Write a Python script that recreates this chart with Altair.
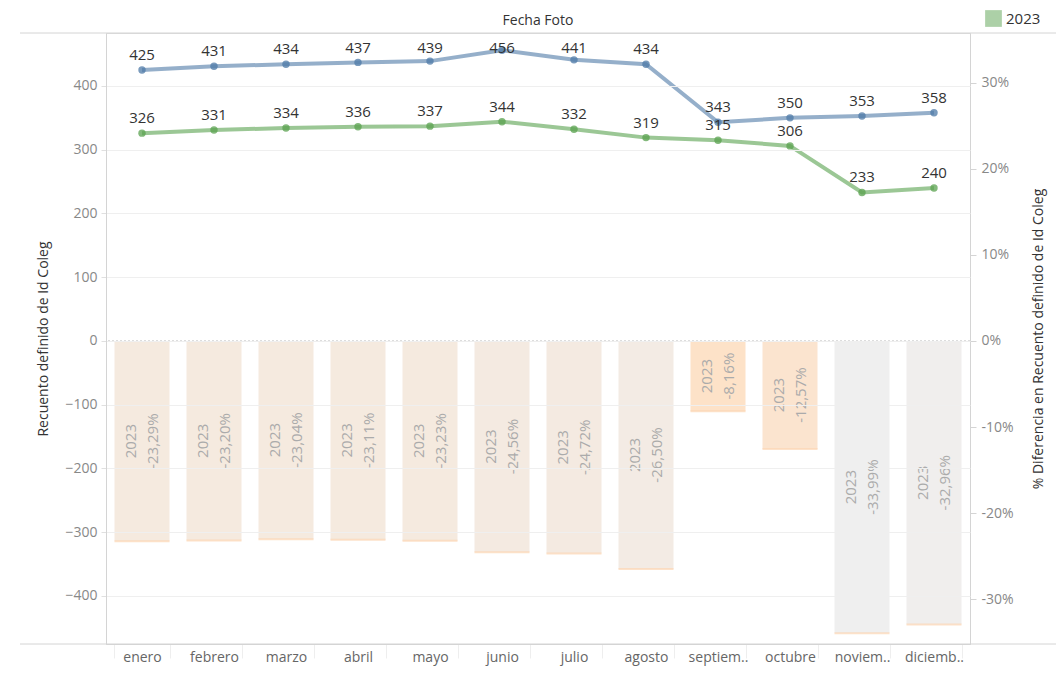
import altair as alt
import pandas as pd

# ---------------- data ----------------
months = ["enero", "febrero", "marzo", "abril", "mayo", "junio", "julio",
          "agosto", "septiem..", "octubre", "noviem..", "diciemb.."]
count_2022 = [425, 431, 434, 437, 439, 456, 441, 434, 343, 350, 353, 358]
count_2023 = [326, 331, 334, 336, 337, 344, 332, 319, 315, 306, 233, 240]
pct_diff = [-23.29, -23.20, -23.04, -23.11, -23.23, -24.56, -24.72, -26.50,
            -8.16, -12.57, -33.99, -32.96]
bar_year = "2023"
left_ticks = [-400, -300, -200, -100, 0, 100, 200, 300, 400]
right_ticks = [-30, -20, -10, 0, 10, 20, 30]
header_title = "Fecha Foto"

bars_df = pd.DataFrame({
    "mes": months,
    "pct": pct_diff,
    "anio": [bar_year] * len(months),
    "pct_txt": [(f"{p:.2f}%").replace(".", ",") for p in pct_diff],
})
bars_df["mitad"] = bars_df["pct"] / 2

lines_df = pd.DataFrame({
    "mes": months * 2,
    "anio": ["2022"] * len(months) + ["2023"] * len(months),
    "valor": count_2022 + count_2023,
})

FONT = "Open Sans"
W, H = 864, 611

x_enc = alt.X(
    "mes:N", sort=months, title=None,
    scale=alt.Scale(paddingInner=0.236, paddingOuter=0.118),
    axis=alt.Axis(labelAngle=0, labelColor="#666", labelFontSize=14, labelFont=FONT,
                  labelPadding=-8, labelBaseline="top", ticks=True, tickBand="extent",
                  tickColor="#eeeeee", tickSize=14, domainColor="#d4d4d4", grid=False),
)

r_scale = alt.Scale(domain=[-35.23, 35.81], nice=False, zero=False)
l_scale = alt.Scale(domain=[-475.3, 483.1], nice=False, zero=False)

bars = alt.Chart(bars_df).mark_bar().encode(
    x=x_enc,
    y=alt.Y("pct:Q", scale=r_scale,
            axis=alt.Axis(orient="right", title="% Diferencia en Recuento definido de Id Coleg",
                          values=right_ticks, labelExpr="datum.value + '%'", grid=False,
                          labelColor="#888", labelFontSize=14, labelFont=FONT, labelPadding=5,
                          tickColor="#d4d4d4", tickSize=6, domainColor="#d4d4d4",
                          titleColor="#333", titleFontSize=14, titleFont=FONT,
                          titleFontWeight="normal", titleAngle=270, titleBaseline="top",
                          titlePadding=18)),
    color=alt.Color("pct:Q", legend=None,
                    scale=alt.Scale(domain=[-34, -8], range=["#efefef", "#fde2c8"],
                                    interpolate="rgb")),
)

bar_ends = alt.Chart(bars_df).mark_tick(size=55, thickness=2, color="#fcd6b3").encode(
    x=alt.X("mes:N", sort=months),
    y=alt.Y("pct:Q", scale=r_scale, axis=None),
)

bar_text_year = alt.Chart(bars_df).mark_text(
    angle=270, align="center", baseline="middle", xOffset=-11,
    fontSize=15, font=FONT, color="#ababab",
).encode(
    x=alt.X("mes:N", sort=months),
    y=alt.Y("mitad:Q", scale=r_scale, axis=None),
    text="anio:N",
)

bar_text_pct = alt.Chart(bars_df).mark_text(
    angle=270, align="center", baseline="middle", xOffset=11,
    fontSize=15, font=FONT, color="#ababab",
).encode(
    x=alt.X("mes:N", sort=months),
    y=alt.Y("mitad:Q", scale=r_scale, axis=None),
    text="pct_txt:N",
)

zero_rule = alt.Chart(bars_df).mark_rule(color="#bdbdbd", strokeDash=[2, 2], strokeWidth=1).encode(
    y=alt.Y("cero:Q", scale=r_scale, axis=None),
).transform_calculate(cero="0").transform_filter("datum.mes == 'enero'")

color_scale = alt.Scale(domain=["2022", "2023"], range=["#4e79a7", "#59a14f"])

lines = alt.Chart(lines_df).mark_line(strokeWidth=4, opacity=0.6).encode(
    x=alt.X("mes:N", sort=months),
    y=alt.Y("valor:Q", scale=l_scale,
            axis=alt.Axis(orient="left", title="Recuento definido de Id Coleg",
                          values=left_ticks, grid=True, gridColor="#efefef",
                          labelColor="#888", labelFontSize=14, labelFont=FONT, labelPadding=4,
                          tickColor="#e0e0e0", tickSize=5, domainColor="#d4d4d4",
                          titleColor="#333", titleFontSize=14, titleFont=FONT,
                          titleFontWeight="normal", titlePadding=14, zindex=1)),
    color=alt.Color("anio:N", scale=color_scale, legend=None),
    detail="anio:N",
)

points = alt.Chart(lines_df).mark_circle(size=55, opacity=0.75).encode(
    x=alt.X("mes:N", sort=months),
    y=alt.Y("valor:Q", scale=l_scale, axis=None),
    color=alt.Color("anio:N", scale=color_scale,
                    legend=alt.Legend(values=["2023"], title=None, orient="none",
                                      legendX=879, legendY=-23, symbolType="square",
                                      symbolSize=280, symbolOpacity=0.5, symbolStrokeWidth=0,
                                      labelFontSize=15, labelFont=FONT, labelColor="#333")),
)

# labels are kept inside the pane (as the original does): anchor clamped near the top
labels = alt.Chart(lines_df).transform_calculate(
    ancla="min(datum.valor, 436)"
).mark_text(
    dy=-10, baseline="alphabetic", align="center", fontSize=15, font=FONT, color="#333",
).encode(
    x=alt.X("mes:N", sort=months),
    y=alt.Y("ancla:Q", scale=l_scale, axis=None),
    text="valor:Q",
)

# header text and frame lines of the Tableau sheet (decoration)
one = pd.DataFrame({"t": [header_title]})
header = alt.Chart(one).mark_text(
    fontSize=14, font=FONT, color="#333", fontWeight=500, baseline="middle", align="center",
).encode(x=alt.value(W / 2), y=alt.value(-12), text="t:N")

frame = alt.Chart(one).mark_rule(color="#d4d4d4", strokeWidth=1).encode(
    x=alt.value(-86), x2=alt.value(954), y=alt.value(0),
)
frame_b = alt.Chart(one).mark_rule(color="#d4d4d4", strokeWidth=1).encode(
    x=alt.value(-86), x2=alt.value(954), y=alt.value(H),
)

chart = alt.layer(
    bars, bar_ends, bar_text_year, bar_text_pct, zero_rule, lines, points, labels,
    header, frame, frame_b
).resolve_scale(y="independent").properties(
    width=W, height=H,
    autosize=alt.AutoSizeParams(type="none"),
    padding={"left": 98, "top": 25, "right": 86, "bottom": 23},
).configure_view(stroke=None).configure(background="white")

chart.save("out.html", embed_options={"renderer": "svg", "actions": False})
